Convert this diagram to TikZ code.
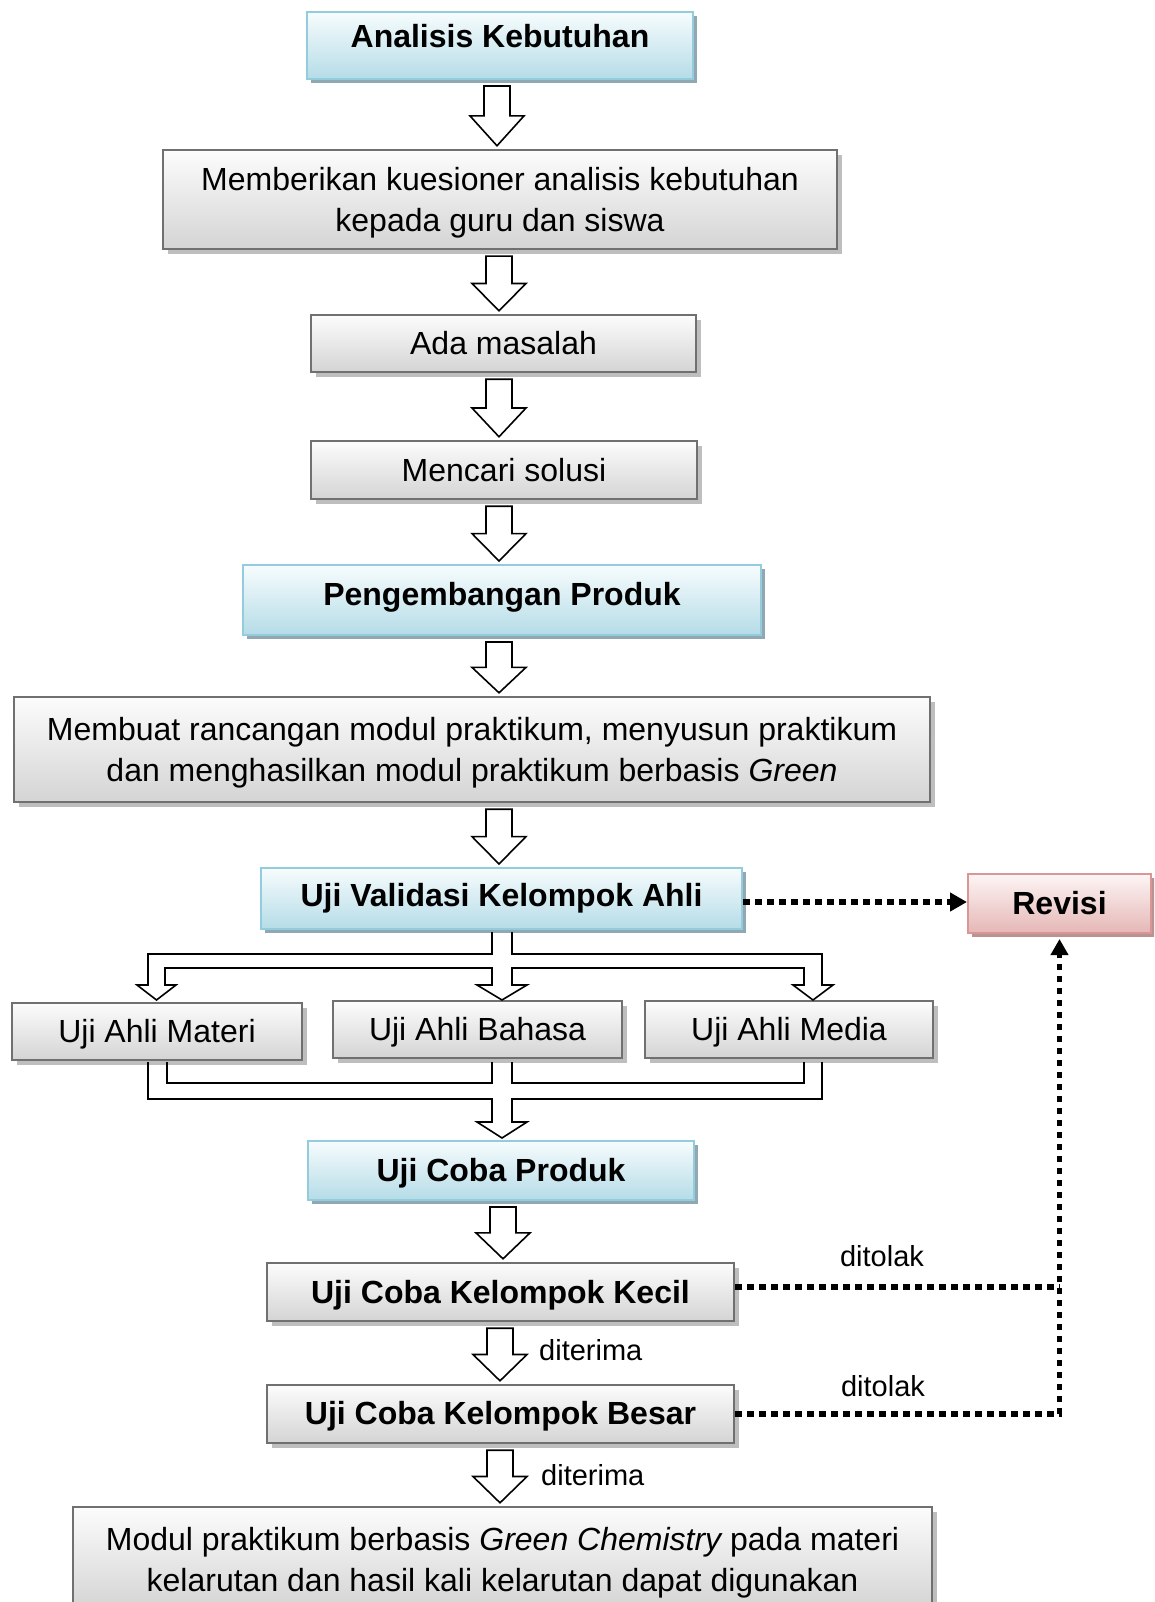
\documentclass[tikz,border=0pt]{standalone}
\usepackage{fontspec}
\setmainfont{Liberation Sans}
\usetikzlibrary{shadows,arrows.meta,calc}

\definecolor{bluetop}{HTML}{F7FCFD}
\definecolor{bluebot}{HTML}{B5DCE7}
\definecolor{blueline}{HTML}{93CDDD}
\definecolor{blueshadow}{HTML}{91A8B2}
\definecolor{graytop}{HTML}{FCFCFC}
\definecolor{graybot}{HTML}{D4D4D4}
\definecolor{grayline}{HTML}{707070}
\definecolor{grayshadow}{HTML}{BEBEBE}
\definecolor{redtop}{HTML}{FDF5F5}
\definecolor{redbot}{HTML}{E5B7B6}
\definecolor{redline}{HTML}{D99694}
\definecolor{redshadow}{HTML}{B99391}

\tikzset{
  box/.style={rectangle, inner sep=0pt, align=center, font=\fontsize{32}{41}\selectfont},
  bluebox/.style={box, draw=blueline, line width=2pt, top color=bluetop, bottom color=bluebot,
    drop shadow={shadow xshift=4pt, shadow yshift=-4pt, fill=blueshadow, opacity=1},
    font=\fontsize{32}{41}\selectfont\bfseries},
  graybox/.style={box, draw=grayline, line width=2.4pt, top color=graytop, bottom color=graybot,
    drop shadow={shadow xshift=5pt, shadow yshift=-5pt, fill=grayshadow, opacity=1}},
  grayboldbox/.style={graybox, font=\fontsize{32}{41}\selectfont\bfseries},
  redbox/.style={box, draw=redline, line width=2pt, top color=redtop, bottom color=redbot,
    drop shadow={shadow xshift=4pt, shadow yshift=-4pt, fill=redshadow, opacity=1},
    font=\fontsize{32}{41}\selectfont\bfseries},
  barrow/.style={draw=black, fill=white, line width=1.6pt, line join=miter},
  tree/.style={draw=black, line width=1.6pt, line join=miter},
  dotline/.style={line width=5.5pt, dash pattern=on 6.5pt off 5.5pt},
  lbl/.style={inner sep=0pt, font=\fontsize{29}{34}\selectfont},
}

% text moved vertically by #1 without changing the box size
\newcommand\shifted[2]{\raisebox{#1}[\height][\depth]{\begin{tabular}{@{}c@{}}#2\end{tabular}}}

% block arrow from node #1 to node #2 at x = #3
\newcommand\blockarr[3]{%
  \draw[barrow] let \p1=(#1.south), \p2=(#2.north) in
    ({#3pt-13pt},{\y1-6pt}) -- ({#3pt-13pt},{0.5*(\y1+\y2)-1.5pt})
    -- ({#3pt-27pt},{0.5*(\y1+\y2)-1.5pt}) -- ({#3pt},{\y2+3pt})
    -- ({#3pt+27pt},{0.5*(\y1+\y2)-1.5pt}) -- ({#3pt+13pt},{0.5*(\y1+\y2)-1.5pt})
    -- ({#3pt+13pt},{\y1-6pt}) -- cycle;}

\begin{document}
\begin{tikzpicture}[x=1pt,y=-1pt]
\clip (0,0) rectangle (1154,1602);
\fill[white] (0,0) rectangle (1154,1602);

\node[bluebox, minimum width=386pt, minimum height=67pt] (ana) at (500,45.5) {\shifted{6pt}{Analisis Kebutuhan}};
\node[graybox, minimum width=674pt, minimum height=99pt] (mem) at (500,199.5)
  {\shifted{-3pt}{Memberikan kuesioner analisis kebutuhan\\kepada guru dan siswa}};
\node[graybox, minimum width=385pt, minimum height=57pt] (ada) at (503.5,343.5) {Ada masalah};
\node[graybox, minimum width=386pt, minimum height=58pt] (men) at (504,470) {Mencari solusi};
\node[bluebox, minimum width=518pt, minimum height=70pt] (pen) at (502,600) {\shifted{3pt}{Pengembangan Produk}};
\node[graybox, minimum width=916pt, minimum height=105pt] (mbt) at (472,749.5)
  {\shifted{-3pt}{Membuat rancangan modul praktikum, menyusun praktikum\\dan menghasilkan modul praktikum berbasis {\itshape Green}}};
\node[bluebox, minimum width=481pt, minimum height=61pt] (val) at (501.5,898.5) {Uji Validasi Kelompok Ahli};
\node[redbox, minimum width=183pt, minimum height=59pt] (rev) at (1059.5,903.5) {Revisi};
\node[graybox, minimum width=290pt, minimum height=57pt] (mat) at (157,1031.5) {\shifted{-3pt}{Uji Ahli Materi}};
\node[graybox, minimum width=289pt, minimum height=57pt] (bah) at (477.5,1029.5) {\shifted{-3pt}{Uji Ahli Bahasa}};
\node[graybox, minimum width=288pt, minimum height=57pt] (med) at (789,1029.5) {\shifted{-3pt}{Uji Ahli Media}};
\node[bluebox, minimum width=386pt, minimum height=59pt] (ucp) at (501,1170.5) {\shifted{-3pt}{Uji Coba Produk}};
\node[grayboldbox, minimum width=467pt, minimum height=58pt] (kec) at (500.5,1292) {\shifted{-3pt}{Uji Coba Kelompok Kecil}};
\node[grayboldbox, minimum width=467pt, minimum height=58pt] (bes) at (500.5,1414) {\shifted{-2pt}{Uji Coba Kelompok Besar}};
\node[graybox, minimum width=859pt, minimum height=102pt] (mod) at (502.5,1558)
  {\shifted{-5pt}{Modul praktikum berbasis {\itshape Green Chemistry} pada materi\\kelarutan dan hasil kali kelarutan dapat digunakan}};

% block arrows
\blockarr{ana}{mem}{497}
\blockarr{mem}{ada}{499}
\blockarr{ada}{men}{499}
\blockarr{men}{pen}{499}
\blockarr{pen}{mbt}{499}
\blockarr{mbt}{val}{499}
\blockarr{ucp}{kec}{503}
\blockarr{kec}{bes}{500}
\blockarr{bes}{mod}{500}

% split tree from validation to the three experts
\draw[tree] (492,932) -- (492,954) -- (148,954) -- (148,985) -- (137,985) -- (156.5,1000)
  -- (176,985) -- (165,985) -- (165,968) -- (492,968) -- (492,985) -- (477,985)
  -- (502,1000) -- (527,985) -- (512,985) -- (512,968) -- (804,968) -- (804,985)
  -- (793,985) -- (813,1000) -- (833,985) -- (822,985) -- (822,954) -- (512,954) -- (512,932);

% merge tree into Uji Coba Produk
\draw[tree] (148,1062) -- (148,1099) -- (492,1099) -- (492,1122) -- (477,1122) -- (502,1138)
  -- (527,1122) -- (512,1122) -- (512,1099) -- (822,1099) -- (822,1062);
\draw[tree] (167,1062) -- (167,1083) -- (492,1083) -- (492,1062);
\draw[tree] (512,1062) -- (512,1083) -- (804,1083) -- (804,1062);

% dotted connectors
\draw[dotline, -{Triangle[length=17pt,width=18pt]}] ([yshift=-3.5pt]val.east) -- ([yshift=1.5pt]rev.west);
\draw[dotline] ([yshift=5pt]kec.east) -- ([yshift=5pt]kec.east -| rev.south);
\draw[dotline, -{Triangle[length=16pt,width=17pt]}] (bes.east) -| ([yshift=-5pt]rev.south);

% labels
\node[lbl] (dt1) at (882,1256) {ditolak};
\node[lbl] (dt2) at (883,1386) {ditolak};
\node[lbl, anchor=west] (dr1) at (539,1350) {diterima};
\node[lbl, anchor=west] (dr2) at (541,1475) {diterima};
\end{tikzpicture}
\end{document}
